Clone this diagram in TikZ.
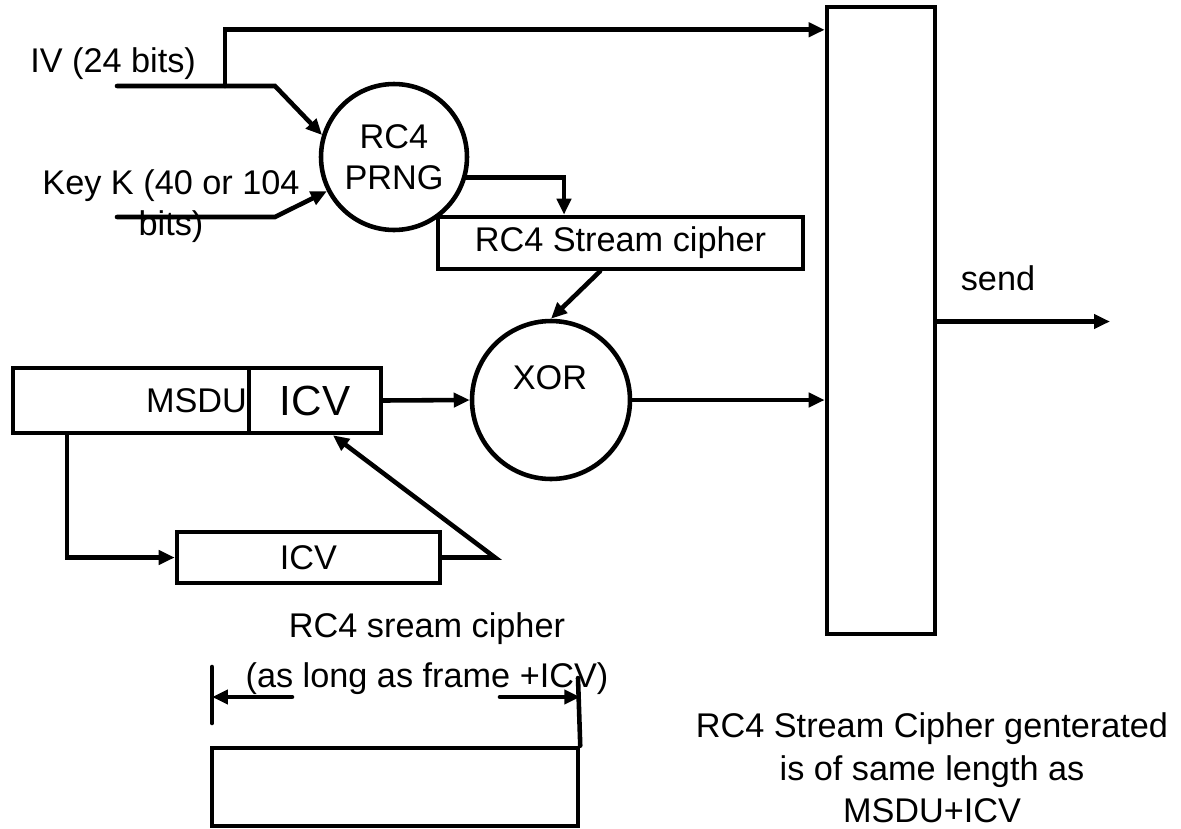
\documentclass[tikz,border=0pt]{standalone}
\usepackage{fontspec}
\setmainfont{Liberation Sans}
\usetikzlibrary{arrows.meta}
\begin{document}
\begin{tikzpicture}[x=0.02cm,y=-0.02cm,
  line width=2.6pt, line cap=round,
  arr/.style={-{Triangle[length=0.32cm,width=0.28cm]}},
  box/.style={draw, rectangle, inner sep=0pt, line cap=butt},
  circ/.style={draw, circle, inner sep=0pt},
  txt/.style={inner sep=0pt, font=\fontsize{19.5}{23.4}\selectfont}]

\useasboundingbox (0,0) rectangle (1181,829);

% main blocks
\node[circ, minimum size=2.92cm, align=center, font=\fontsize{19.5}{23.3}\selectfont] (prng) at (394,157) {RC4\\PRNG};
\node[box, minimum width=7.3cm, minimum height=1.04cm, font=\fontsize{19.5}{23.4}\selectfont] (stream) at (620.5,243) {RC4 Stream cipher};
\node[circ, minimum size=3.16cm] (xor) at (551,400) {};
\node[txt] (xortxt) at (550,378) {XOR};
\node[box, minimum width=4.72cm, minimum height=1.3cm, text width=4.64cm, inner xsep=0.04cm, align=right, font=\fontsize{19.5}{23.4}\selectfont] (msdu) at (131,400.5) {MSDU};
\node[box, minimum width=2.64cm, minimum height=1.3cm, font=\fontsize{24}{28}\selectfont] (icv1) at (315,400.5) {ICV};
\node[box, minimum width=5.26cm, minimum height=1.02cm, font=\fontsize{19.5}{23.4}\selectfont] (icv2) at (308.5,557.5) {ICV};
\node[box, minimum width=2.16cm, minimum height=12.54cm] (bigbox) at (881,320.5) {};
\node[txt] (send) at (998,278) {send};
\coordinate (sendend) at (1110,321.5);
\draw[arr] (bigbox.east |- sendend) -- (sendend);

% IV input
\node[txt, anchor=base west] (ivlabel) at (28,72) {IV (24 bits)};
\coordinate (ivstart) at (117,86);
\coordinate (ivbend) at (275,86);
\coordinate (ivsplit) at (225,86);
\draw[arr] (ivstart) -- (ivbend) -- (prng.163);
\draw[arr] (ivsplit) |- ([yshift=-0.5cm]bigbox.north west);

% Key input
\node[txt, align=center] (keylabel) at (171,206) {Key K (40 or 104\\bits)};
\coordinate (keystart) at (117,217);
\coordinate (keybend) at (275,217);
\draw[arr] (keystart) -- (keybend) -- (prng.207);

% PRNG -> stream -> XOR
\draw[arr] (prng.-16) -| ([xshift=-1.13cm]stream.north);
\draw[arr] ([xshift=-0.41cm]stream.south) -- (xor.north);

% frame path
\draw[arr] (icv1.east) -- (xor.west);
\draw[arr] (xor.east) -- (xor.east -| bigbox.west);
\draw[arr] ([xshift=-1.28cm]msdu.south) |- (icv2.west);
\coordinate (icvturn) at (495,557.5);
\draw[arr] (icv2.east) -- (icvturn) -- ([xshift=0.36cm]icv1.south);

% lower part
\node[txt, align=center, font=\fontsize{19.5}{28.5}\selectfont] (streamnote) at (427,654) {RC4 sream cipher\\(as long as frame +ICV)};
\node[box, minimum width=7.32cm, minimum height=1.56cm] (frame) at (395,787) {};
\coordinate (lbtop) at (212,667);
\coordinate (lbbot) at (212,723);
\draw (lbtop) -- (lbbot);
\coordinate (larrs) at (292,697);
\coordinate (larre) at (212,697);
\draw[arr] (larrs) -- (larre);
\coordinate (rarrs) at (500,697);
\coordinate (rtop) at (578,678);
\draw[arr] (rarrs) -- (rarrs -| frame.east);
\draw (rtop) -- (frame.north east);

\node[txt, align=center, font=\fontsize{19.5}{24.2}\selectfont] (lengthnote) at (932,768) {RC4 Stream Cipher genterated\\is of same length as\\MSDU+ICV};
\end{tikzpicture}
\end{document}
